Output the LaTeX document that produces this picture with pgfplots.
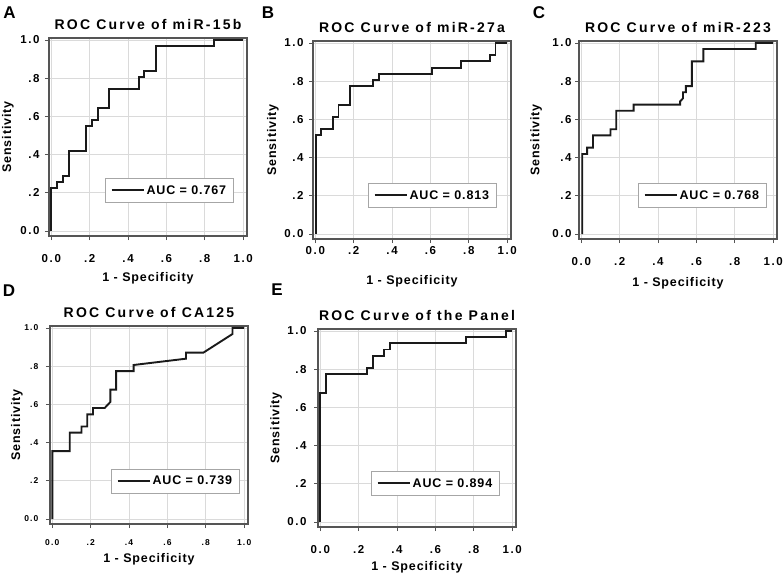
\documentclass[border=0pt]{standalone}
\usepackage{fontspec}
\setmainfont{Liberation Sans}
\newfontfamily\ttlfont{Liberation Sans}[LetterSpace=16]
\newfontfamily\lblfont{Liberation Sans}[LetterSpace=7]
\newfontfamily\tckfont{Liberation Sans}[LetterSpace=14]
\usepackage{pgfplots}
\pgfplotsset{compat=1.18}

\definecolor{framec}{HTML}{555555}
\definecolor{gridc}{HTML}{DADADA}
\definecolor{curvec}{HTML}{1A1A1A}

% common look of the five ROC panels
\pgfplotsset{
  roc/.style={
    scale only axis, width=198pt, height=198pt,
    xmin=-0.012, xmax=1.02, ymin=-0.026, ymax=1.01,
    xtick={0,0.2,0.4,0.6,0.8,1}, xticklabels={0.0,.2,.4,.6,.8,1.0},
    ytick={0,0.2,0.4,0.6,0.8,1}, yticklabels={0.0,.2,.4,.6,.8,1.0},
    grid=major, major grid style={gridc, line width=0.8pt},
    axis line style={framec, line width=2pt},
    tick align=outside, tick pos=left, major tick length=4pt,
    every tick/.style={framec, line width=0.8pt},
    /pgf/number format/assume math mode=true,
    ticklabel style={font=\tckfont\bfseries\fontsize{11.5}{12}\selectfont, text=black},
    title style={font=\ttlfont\bfseries\fontsize{14}{16}\selectfont,
      at={(axis description cs:0.5,1.04)}, anchor=center},
    xlabel={1 - Specificity}, ylabel={Sensitivity},
    label style={font=\lblfont\bfseries\fontsize{12.5}{14}\selectfont},
    legend style={draw=gray!70, line width=0.8pt, fill=white,
      font=\lblfont\bfseries\fontsize{12.5}{14}\selectfont,
      inner xsep=5pt, inner ysep=4.5pt, anchor=north west, legend cell align=left},
    legend image code/.code={\draw[curvec, line width=1.9pt] (0pt,0pt) -- (32pt,0pt);},
  },
  curve/.style={curvec, line width=1.9pt, line join=miter, mark=none},
  ylab/.style={ylabel style={at={(axis description cs:#1,0.5)}, anchor=center}},
  xlab/.style={xlabel style={at={(axis description cs:0.5,#1)}, anchor=center}},
}

\begin{document}
\begin{tikzpicture}

% A
\begin{axis}[roc, at={(49pt,-38pt)}, anchor=north west,
  title={ROC Curve of miR-15b}, ylab=-0.207, xlab=-0.212,
  xticklabel style={yshift=-11pt}, yticklabel style={xshift=-2pt},
  legend style={at={(axis cs:0.281,0.2755)}}]
\addplot[curve] coordinates {(0,0)(0,0.226)(0.030,0.226)(0.030,0.258)(0.061,0.258)(0.061,0.290)
 (0.091,0.290)(0.091,0.419)(0.182,0.419)(0.182,0.548)(0.212,0.548)(0.212,0.581)(0.242,0.581)
 (0.242,0.645)(0.303,0.645)(0.303,0.742)(0.455,0.742)(0.455,0.806)(0.485,0.806)(0.485,0.839)
 (0.545,0.839)(0.545,0.968)(0.848,0.968)(0.848,1)(1,1)};
\addlegendentry{AUC = 0.767}
\end{axis}

% B
\begin{axis}[roc, at={(313pt,-41pt)}, anchor=north west,
  title={ROC Curve of miR-27a}, ylab=-0.202, xlab=-0.212,
  xticklabel style={yshift=0pt}, yticklabel style={xshift=-2pt},
  legend style={at={(axis cs:0.276,0.265)}}]
\addplot[curve] coordinates {(0.005,0)(0.005,0.516)(0.030,0.516)(0.030,0.548)(0.091,0.548)
 (0.091,0.613)(0.121,0.613)(0.121,0.677)(0.182,0.677)(0.182,0.774)(0.303,0.774)(0.303,0.806)
 (0.333,0.806)(0.333,0.839)(0.606,0.839)(0.606,0.871)(0.758,0.871)(0.758,0.903)(0.909,0.903)
 (0.909,0.935)(0.939,0.935)(0.939,1)(1,1)};
\addlegendentry{AUC = 0.813}
\end{axis}

% C
\begin{axis}[roc, at={(579pt,-41pt)}, anchor=north west,
  title={ROC Curve of miR-223}, ylab=-0.217, xlab=-0.222,
  xticklabel style={yshift=-11pt}, yticklabel style={xshift=0pt},
  legend style={at={(axis cs:0.297,0.265)}}]
\addplot[curve] coordinates {(0.005,0)(0.005,0.419)(0.030,0.419)(0.030,0.452)(0.061,0.452)
 (0.061,0.516)(0.152,0.516)(0.152,0.548)(0.182,0.548)(0.182,0.645)(0.273,0.645)(0.273,0.677)
 (0.515,0.677)(0.515,0.694)(0.530,0.710)(0.530,0.742)(0.545,0.742)(0.545,0.774)(0.576,0.774)
 (0.576,0.903)(0.636,0.903)(0.636,0.968)(0.909,0.968)(0.909,1)(1,1)};
\addlegendentry{AUC = 0.768}
\end{axis}

% D
\begin{axis}[roc, at={(50pt,-326pt)}, anchor=north west,
  title={ROC Curve of CA125}, ylab=-0.167, xlab=-0.177,
  ticklabel style={font=\tckfont\bfseries\fontsize{8.5}{9}\selectfont},
  xticklabel style={yshift=-8pt}, yticklabel style={xshift=-4pt},
  legend style={at={(axis cs:0.307,0.26)}}]
\addplot[curve] coordinates {(0,0)(0,0.355)(0.091,0.355)(0.091,0.452)(0.152,0.452)(0.152,0.484)
 (0.182,0.484)(0.182,0.548)(0.212,0.548)(0.212,0.581)(0.273,0.581)(0.303,0.613)(0.303,0.677)
 (0.333,0.677)(0.333,0.774)(0.424,0.774)(0.424,0.806)(0.697,0.839)(0.697,0.871)(0.788,0.871)
 (0.939,0.968)(0.939,1)(1,1)};
\addlegendentry{AUC = 0.739}
\end{axis}

% E
\begin{axis}[roc, at={(318pt,-329pt)}, anchor=north west,
  title={ROC Curve of the Panel}, ylab=-0.212, xlab=-0.202,
  xticklabel style={yshift=-11pt}, yticklabel style={xshift=-4pt},
  legend style={at={(axis cs:0.266,0.265)}}]
\addplot[curve] coordinates {(0,0)(0,0.677)(0.030,0.677)(0.030,0.774)(0.242,0.774)(0.242,0.806)
 (0.273,0.806)(0.273,0.871)(0.333,0.871)(0.333,0.903)(0.364,0.903)(0.364,0.935)(0.758,0.935)
 (0.758,0.968)(0.970,0.968)(0.970,1)(1,1)};
\addlegendentry{AUC = 0.894}
\end{axis}

% panel letters
\begin{scope}[every node/.style={font=\bfseries\fontsize{17}{17}\selectfont, inner sep=0pt}]
\node at (9.5pt,-13pt) {A};
\node at (268pt,-12.5pt) {B};
\node at (539pt,-12.5pt) {C};
\node at (9pt,-291pt) {D};
\node at (277pt,-290pt) {E};
\end{scope}

\pgfresetboundingbox
\path[use as bounding box] (0,0) rectangle (784pt,-575pt);
\end{tikzpicture}
\end{document}
